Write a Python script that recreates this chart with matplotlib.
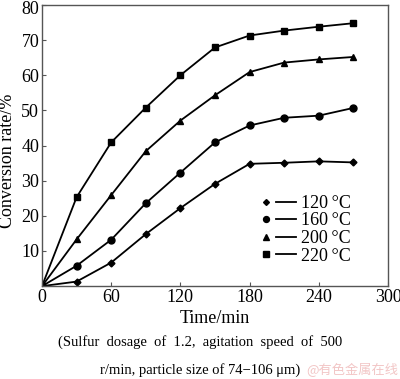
import matplotlib
matplotlib.use('Agg')
import matplotlib.pyplot as plt
import matplotlib.transforms as mtransforms
from matplotlib.lines import Line2D
from matplotlib.legend_handler import HandlerTuple

time_min = [0, 30, 60, 90, 120, 150, 180, 210, 240, 270]
conv_120 = [0, 1.3, 6.7, 14.8, 22.2, 29.1, 34.8, 35.1, 35.5, 35.2]
conv_160 = [0, 5.8, 13.2, 23.6, 32.3, 40.9, 45.7, 47.9, 48.5, 50.7]
conv_200 = [0, 13.3, 25.9, 38.4, 47.1, 54.3, 60.9, 63.6, 64.5, 65.2]
conv_220 = [0, 25.3, 40.9, 50.8, 60.0, 67.9, 71.3, 72.7, 73.8, 74.8]
series_labels = ['120\u2009\u00b0C', '160\u2009\u00b0C', '200\u2009\u00b0C', '220\u2009\u00b0C']
series_markers = ['D', 'o', '^', 's']
x_ticks = [0, 60, 120, 180, 240, 300]
y_ticks = [0, 10, 20, 30, 40, 50, 60, 70, 80]

plt.rcParams['font.family'] = ['Liberation Serif', 'DejaVu Serif']

fig = plt.figure(figsize=(4.0, 3.79), dpi=100)
ax = fig.add_axes([0.105, 0.245, 0.865, 0.742])

marker_sizes = {'D': 3.5, 'o': 5, '^': 5, 's': 5}
handles = []
for vals, mk in zip([conv_120, conv_160, conv_200, conv_220], series_markers):
    ax.plot(time_min, vals, color='black', lw=1.3, marker=mk, ms=marker_sizes[mk])
    # legend: marker first, then a separate short line
    h_mk = Line2D([], [], color='black', marker=mk, ms=marker_sizes[mk] * 0.85, ls='none')
    h_ln = Line2D([], [], color='black', lw=1.3)
    handles.append((h_mk, h_ln))

ax.set_xlim(0, 300)
ax.set_ylim(0, 80)
ax.set_xticks(x_ticks)
ax.set_yticks(y_ticks)
ax.set_yticklabels([''] + [str(v) for v in y_ticks[1:]])
ax.tick_params(direction='in', length=3, width=0.8, color='#555555', labelsize=13, pad=2)
for s in ax.spines.values():
    s.set_color('#555555')
    s.set_linewidth(1.0)

# nudge the top label "80" down a touch so it isn't clipped by the figure edge
top_lab = ax.get_yticklabels()[-1]
top_lab.set_transform(top_lab.get_transform() +
                      mtransforms.ScaledTranslation(0, -2 / 72, fig.dpi_scale_trans))

ax.set_xlabel('Time/min', fontsize=13, labelpad=3)
ax.set_ylabel('Conversion rate/%', fontsize=13)
ax.yaxis.set_label_coords(-0.075, 0.445)

ax.legend(handles, series_labels, loc='lower right', bbox_to_anchor=(0.93, 0.032),
          frameon=False, fontsize=13, handlelength=2.2, handletextpad=0.3,
          labelspacing=0.03, borderpad=0.2,
          handler_map={tuple: HandlerTuple(ndivide=None, pad=0.0)})

fig.text(0.145, 0.0976, '(Sulfur  dosage  of  1.2,  agitation  speed  of  500', fontsize=10.5,
         ha='left', va='center')
fig.text(0.25, 0.024, 'r/min, particle size of 74\u2212106 \u03bcm)', fontsize=10.5,
         ha='left', va='center')
fig.text(0.765, 0.024, '@有色金属在线', fontsize=9.5, color='#f2c6c6', ha='left', va='center',
         family=['Noto Sans CJK SC', 'DejaVu Sans'])

fig.savefig('out.png', dpi=100)
